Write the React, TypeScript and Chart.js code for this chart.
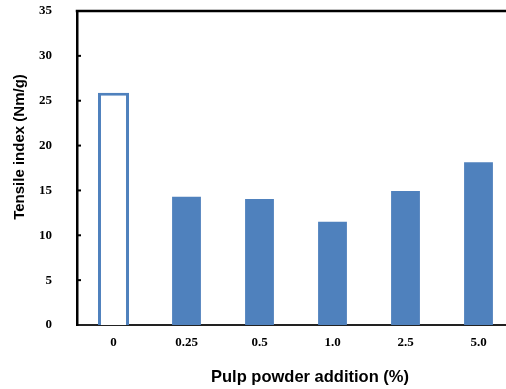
import React, { useEffect, useRef } from "react";
import { Chart, registerables } from "chart.js";

Chart.register(...registerables);

const categories = ["0", "0.25", "0.5", "1.0", "2.5", "5.0"];
const controlValues = [25.9, null, null, null, null, null];
const treatedValues = [null, 14.3, 14.05, 11.5, 14.95, 18.15];
const yMin = 0;
const yMax = 35;
const yStep = 5;
const yTitle = "Tensile index (Nm/g)";
const xTitle = "Pulp powder addition (%)";

const BLUE = "#4F81BD";

const decorPlugin = {
  id: "decor",
  afterDraw(chart: any) {
    const ctx = chart.ctx;
    const area = chart.chartArea;
    const yScale = chart.scales.y;
    ctx.save();
    // top frame line
    ctx.strokeStyle = "#000";
    ctx.lineWidth = 2.5;
    ctx.beginPath();
    ctx.moveTo(area.left - 1.25, area.top);
    ctx.lineTo(chart.width, area.top);
    ctx.stroke();
    // inward tick marks
    ctx.lineWidth = 2;
    yScale.ticks.forEach((t: any) => {
      if (t.value <= yMin || t.value >= yMax) return;
      const y = yScale.getPixelForValue(t.value);
      ctx.beginPath();
      ctx.moveTo(area.left, y);
      ctx.lineTo(area.left + 4, y);
      ctx.stroke();
    });
    // y title
    ctx.fillStyle = "#000";
    ctx.font = "bold 15px 'Liberation Sans', Arial, sans-serif";
    ctx.textAlign = "center";
    ctx.textBaseline = "middle";
    ctx.save();
    ctx.translate(20, 147);
    ctx.rotate(-Math.PI / 2);
    ctx.fillText(yTitle, 0, 0);
    ctx.restore();
    // x title
    ctx.font = "bold 16.5px 'Liberation Sans', Arial, sans-serif";
    ctx.fillText(xTitle, 310, 377);
    ctx.restore();
  },
};

export default function App() {
  const ref = useRef<HTMLCanvasElement>(null);

  useEffect(() => {
    if (!ref.current) return;
    const chart = new Chart(ref.current, {
      type: "bar",
      data: {
        labels: categories,
        datasets: [
          {
            data: controlValues as any,
            backgroundColor: "#FFFFFF",
            borderColor: BLUE,
            borderWidth: 3,
            barPercentage: 0.425,
            categoryPercentage: 1,
            grouped: false,
          } as any,
          {
            data: treatedValues as any,
            backgroundColor: BLUE,
            borderWidth: 0,
            barPercentage: 0.395,
            categoryPercentage: 1,
            grouped: false,
          } as any,
        ],
      },
      options: {
        responsive: false,
        animation: false,
        devicePixelRatio: 1,
        layout: { padding: { top: 11, right: 5, left: 0, bottom: 0 } },
        plugins: {
          legend: { display: false },
          tooltip: { enabled: false },
          title: { display: false },
        },
        scales: {
          x: {
            type: "category",
            grid: { display: false, drawTicks: false },
            border: { display: true, color: "#222", width: 2 },
            ticks: {
              color: "#000",
              font: { family: "'Liberation Serif', 'Times New Roman', serif", size: 13, weight: "bold" },
              padding: 10,
              maxRotation: 0,
            },
            afterFit: (s: any) => {
              s.height = 64;
              s.paddingLeft = 0;
              s.paddingRight = 0;
            },
          },
          y: {
            min: yMin,
            max: yMax,
            grid: { display: false, drawTicks: false },
            border: { display: true, color: "#000", width: 2.5 },
            ticks: {
              stepSize: yStep,
              color: "#000",
              font: { family: "'Liberation Serif', 'Times New Roman', serif", size: 13, weight: "bold" },
              padding: 25,
            },
            afterFit: (s: any) => {
              s.width = 77;
              s.paddingTop = 0;
              s.paddingBottom = 0;
            },
          },
        },
      },
      plugins: [decorPlugin],
    });
    return () => chart.destroy();
  }, []);

  return (
    <div
      style={{
        position: "fixed",
        left: 0,
        top: 0,
        width: 506,
        height: 389,
        overflow: "hidden",
        background: "#fff",
      }}
    >
      <canvas ref={ref} width={520} height={389} style={{ width: 520, height: 389, display: "block" }} />
    </div>
  );
}
